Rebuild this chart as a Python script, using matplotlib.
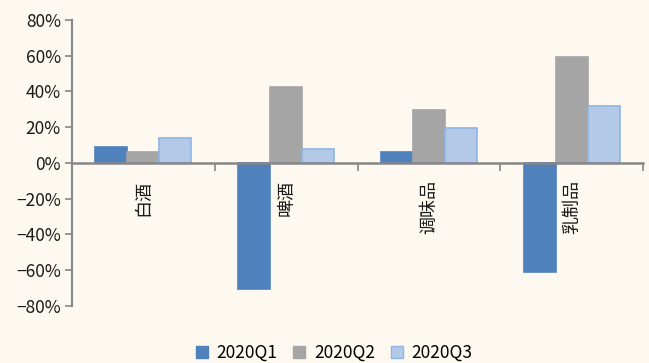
import matplotlib
matplotlib.use("Agg")
import matplotlib.pyplot as plt
from matplotlib.ticker import FuncFormatter, FixedLocator
from matplotlib.patches import Patch

plt.rcParams['font.family'] = ['Noto Sans CJK SC', 'DejaVu Sans']

categories = ['白酒', '啤酒', '调味品', '乳制品']
series_names = ['2020Q1', '2020Q2', '2020Q3']
q1 = [8.8, -70.3, 6.4, -60.9]
q2 = [6.4, 42.3, 29.4, 59.2]
q3 = [13.8, 7.9, 19.8, 32.0]
yticks = [-80, -60, -40, -20, 0, 20, 40, 60, 80]

bg = '#FDF9F0'
face = ['#4F81BD', '#A5A5A5', '#B4C9E7']
edge = ['#4F81BD', '#A5A5A5', '#8EB4E3']
axis_col = '#868686'

fig = plt.figure(figsize=(6.49, 3.63), dpi=100, facecolor=bg)
ax = fig.add_axes([0.111, 0.157, 0.880, 0.788], facecolor=bg)

n = len(categories)
w = 0.224
x = list(range(n))
for k, vals in enumerate([q1, q2, q3]):
    ax.bar([i + (k - 1) * w for i in x], vals, width=w, color=face[k],
           edgecolor=edge[k], linewidth=1.2, zorder=2)

ax.set_xlim(-0.5, n - 0.5)
ax.set_ylim(-80, 80)
ax.yaxis.set_major_locator(FixedLocator(yticks))
ax.yaxis.set_major_formatter(FuncFormatter(lambda v, p: f'{int(v)}%'.replace('-', '−')))
ax.tick_params(axis='y', direction='out', length=5, width=1.2, color=axis_col,
               labelsize=12.5, pad=3, labelcolor='#1a1a1a')

for s in ['top', 'right']:
    ax.spines[s].set_visible(False)
ax.spines['left'].set_color(axis_col)
ax.spines['left'].set_linewidth(1.5)
ax.spines['bottom'].set_position(('data', 0))
ax.spines['bottom'].set_color(axis_col)
ax.spines['bottom'].set_linewidth(1.8)
ax.spines['bottom'].set_zorder(3)
ax.set_xticks([i + 0.5 for i in x])
ax.set_xticklabels([])
ax.tick_params(axis='x', direction='out', length=6, width=1.2, color=axis_col)

for i, c in enumerate(categories):
    ax.annotate(c, xy=(i, 0), xytext=(0, -12), textcoords='offset points',
                rotation=90, ha='center', va='top', fontsize=13, color='#1a1a1a')

handles = [Patch(facecolor=face[k], edgecolor=edge[k], label=series_names[k]) for k in range(3)]
fig.legend(handles=handles, loc='center', bbox_to_anchor=(0.515, 0.028), ncol=3,
           frameon=False, fontsize=12.5, handlelength=0.7, handleheight=0.7,
           handletextpad=0.5, columnspacing=0.9, borderpad=0)

fig.savefig('out.png', dpi=100, facecolor=bg)
